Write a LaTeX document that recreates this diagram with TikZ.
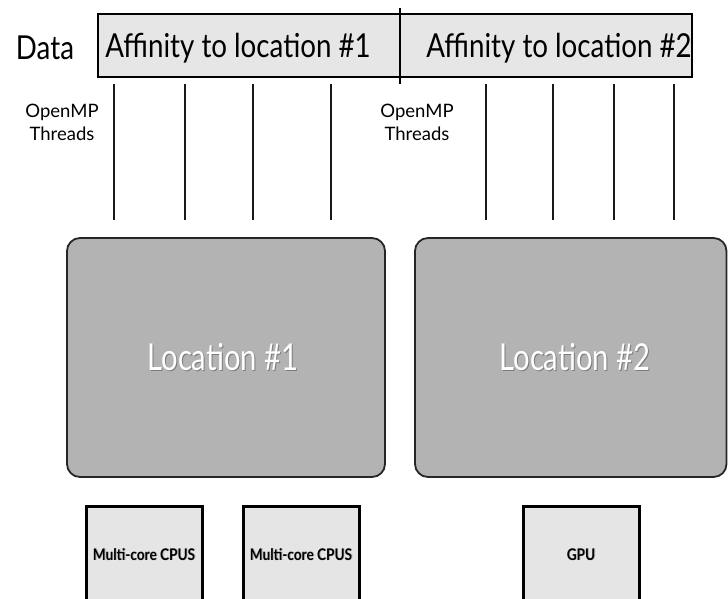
\documentclass[tikz,border=0pt]{standalone}
\usepackage{fontspec}
\setmainfont{Lato}
\newfontfamily\titlefont[FakeStretch=0.84]{Lato}
\newfontfamily\locfont[FakeStretch=0.79]{Lato}
\newfontfamily\unitfont[FakeStretch=0.85]{Lato}
\definecolor{barfill}{HTML}{E6E6E6}
\definecolor{locfill}{HTML}{B3B3B3}
\definecolor{unitfill}{HTML}{E5E5E5}
\begin{document}
\begin{tikzpicture}[x=1pt,y=-1pt,
  bigtxt/.style={font=\titlefont\fontsize{33}{38}\selectfont, anchor=base, inner sep=0pt},
  smalltxt/.style={font=\fontsize{18.5}{23}\selectfont, align=center, anchor=base, inner sep=0pt},
  thread/.style={line width=2.6pt, black!90},
  locbox/.style={draw=black!85, line width=1.8pt, fill=locfill, rounded corners=13pt},
  unitbox/.style={draw=black, line width=3pt, fill=unitfill},
  loctxt/.style={font=\locfont\fontsize{37}{42}\selectfont, anchor=base, inner sep=0pt, text=white},
  unittxt/.style={font=\unitfont\fontsize{16}{19}\selectfont\bfseries, anchor=base, inner sep=0pt},
]
\useasboundingbox (0,0) rectangle (728,599);
\clip (0,0) rectangle (728,599);

% data bar split into two affinity regions
\draw[line width=2.2pt, fill=barfill] (98,14) rectangle (692,77);
\coordinate (divtop) at (400,8);
\coordinate (divbot) at (400,84);
\draw[line width=2.2pt] (divtop) -- (divbot);
\node[bigtxt] (data) at (45,60) {Data};
\node[bigtxt] (aff1) at (238,58) {Affinity to location \#1};
\node[bigtxt] (aff2) at (559,58) {Affinity to location \#2};

% OpenMP thread labels
\node[smalltxt] (omp1) at (62,140) {OpenMP\\Threads};
\node[smalltxt] (omp2) at (417,140) {OpenMP\\Threads};

% thread lines
\foreach \i/\x in {1/114,2/185,3/253,4/331,5/486,6/553,7/614,8/674}{
  \coordinate (t\i a) at (\x,84);
  \coordinate (t\i b) at (\x,220);
  \draw[thread] (t\i a) -- (t\i b);
}

% locations
\draw[locbox] (67,238) rectangle (385,477);
\draw[locbox] (415,238) rectangle (726.5,477);
\foreach \n/\x/\t in {loc1/223/Location \#1, loc2/575/Location \#2}{
  \node[loctxt, text=black, opacity=0.3] at (\x+1,371) {\t};
  \node[loctxt] (\n) at (\x,370) {\t};
}

% compute units
\draw[unitbox] (86,506) rectangle (202,640);
\draw[unitbox] (243,506) rectangle (359,640);
\draw[unitbox] (523,506) rectangle (639,640);
\foreach \n/\x/\t in {cpu1/144/Multi-core CPUS, cpu2/301/Multi-core CPUS, gpu/581/GPU}{
  \node[unittxt, text=black, opacity=0.25] at (\x+0.9,560.9) {\t};
  \node[unittxt] (\n) at (\x,560) {\t};
}
\end{tikzpicture}
\end{document}
